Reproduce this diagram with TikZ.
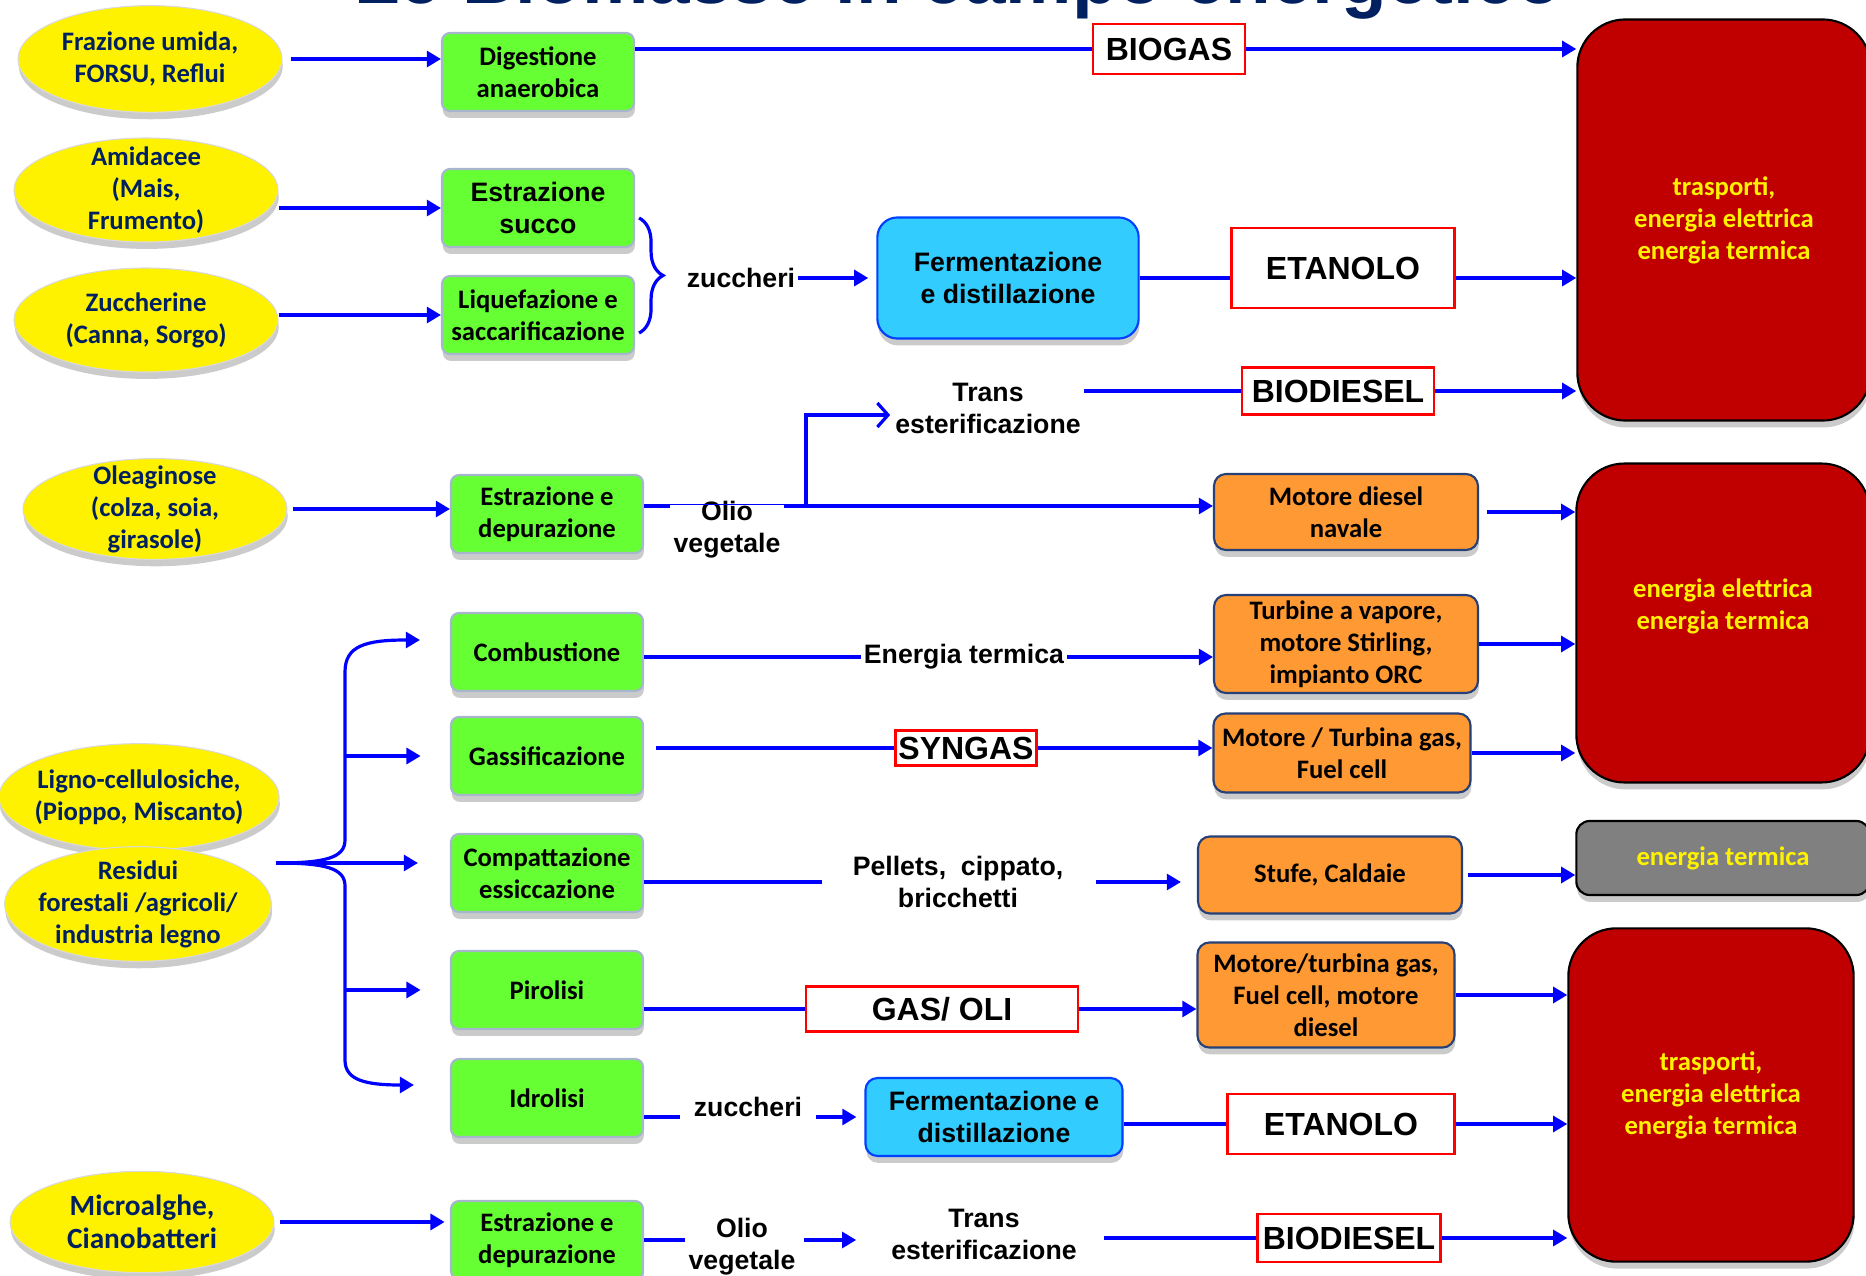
\documentclass[tikz,border=0pt]{standalone}
\usepackage{fontspec}
\setmainfont{Carlito}
\newfontfamily\arialfont{Liberation Sans}
\usetikzlibrary{arrows.meta,calc,shadows,shapes.geometric,decorations.pathreplacing}

\definecolor{navy}{RGB}{0,32,96}
\definecolor{leaf}{RGB}{102,255,51}
\definecolor{sky}{RGB}{51,204,255}
\definecolor{amber}{RGB}{255,153,51}
\definecolor{wine}{RGB}{192,0,0}
\definecolor{frame}{RGB}{166,182,204}

\begin{document}
\begin{tikzpicture}[x=0.375pt, y=-0.375pt,
    every node/.style={font=\bfseries\fontsize{10}{12}\selectfont, align=center, inner sep=1pt},
    arial/.style={font=\arialfont\bfseries\fontsize{10}{12}\selectfont},
    boxshadow/.style={drop shadow={shadow xshift=0.3pt, shadow yshift=-2.6pt, fill=black!45, opacity=0.45}},
    src/.style={ellipse, draw=black!15, fill=yellow, text=navy, minimum width=99pt, minimum height=39pt, inner xsep=-2pt, inner ysep=-3pt, boxshadow},
    proc/.style={rounded corners=3pt, draw=frame, line width=0.8pt, fill=leaf, minimum width=72pt, minimum height=29.25pt, boxshadow},
    ferm/.style={rounded corners=6pt, draw=blue!75!cyan, line width=0.8pt, fill=sky, arial, boxshadow},
    prod/.style={draw=red, line width=1.1pt, fill=white, font=\arialfont\bfseries\fontsize{12}{14}\selectfont},
    conv/.style={rounded corners=4.5pt, draw=navy!85, line width=0.8pt, fill=amber, minimum width=99pt, boxshadow},
    enduse/.style={rounded corners=18pt, draw=black, line width=0.8pt, fill=wine, text=yellow, minimum width=110pt, boxshadow},
    lbl/.style={arial},
    link/.style={draw=blue, line width=1.2pt},
    flow/.style={link, -{Triangle[length=5.3pt, width=6pt]}},
  ]
\useasboundingbox (0,0) rectangle (1866,1276);

\node[font=\arialfont\bfseries\fontsize{28}{30}\selectfont, text=navy, anchor=base] (title) at (958,4) {Le Biomasse in campo energetico};

% sources
\node[src, minimum height=40pt] (e1) at (150,59) {Frazione umida,\\FORSU, Reflui};
\node[src] (e2) at (146,190) {Amidacee\\(Mais,\\Frumento)};
\node[src] (e3) at (146,320) {Zuccherine\\(Canna, Sorgo)};
\node[src, minimum height=37pt] (e4) at (155,509) {Oleaginose\\(colza, soia,\\girasole)};
\node[src, minimum height=40pt] (e5) at (139,797) {Ligno-cellulosiche,\\(Pioppo, Miscanto)};
\node[src, minimum height=43pt] (e6) at (138,904) {Residui\\forestali /agricoli/\\industria legno};
\node[src, minimum height=38pt, font=\bfseries\fontsize{11}{12.5}\selectfont] (e7) at (142,1222) {Microalghe,\\Cianobatteri};

% processes
\node[proc] (g1) at (538,72) {Digestione\\anaerobica};
\node[proc, arial] (g2) at (538,208) {Estrazione\\succo};
\node[proc] (g3) at (538,315) {Liquefazione e\\saccarificazione};
\node[proc] (g4) at (547,514) {Estrazione e\\depurazione};
\node[proc] (g5) at (547,652) {Combustione};
\node[proc] (g6) at (547,756) {Gassificazione};
\node[proc] (g7) at (547,873) {Compattazione\\essiccazione};
\node[proc] (g8) at (547,990) {Pirolisi};
\node[proc] (g9) at (547,1098) {Idrolisi};
\node[proc] (g10) at (547,1240) {Estrazione e\\depurazione};

\node[ferm, minimum width=98pt, minimum height=45.4pt, rounded corners=7.5pt] (b1) at (1008,278) {Fermentazione\\e distillazione};
\node[ferm, minimum width=96.4pt, minimum height=29.25pt, rounded corners=4.5pt] (b2) at (994,1117) {Fermentazione e\\distillazione};

% products
\node[prod, minimum width=57pt, minimum height=18.75pt] (r1) at (1169,49) {BIOGAS};
\node[prod, minimum width=83.6pt, minimum height=30pt] (r2) at (1343,268) {ETANOLO};
\node[prod, minimum width=72pt, minimum height=17.6pt] (r3) at (1338,391) {BIODIESEL};
\node[prod, minimum width=53pt, minimum height=13pt] (r4) at (966,748) {SYNGAS};
\node[prod, minimum width=102pt, minimum height=17pt] (r5) at (942,1009) {GAS/ OLI};
\node[prod, minimum width=85pt, minimum height=22.5pt] (r6) at (1341,1124) {ETANOLO};
\node[prod, minimum width=68.6pt, minimum height=18pt] (r7) at (1349,1238) {BIODIESEL};

% conversion
\node[conv, minimum height=28.5pt] (o1) at (1346,512) {Motore diesel\\navale};
\node[conv, minimum height=36.75pt] (o2) at (1346,644) {Turbine a vapore,\\motore Stirling,\\impianto ORC};
\node[conv, minimum width=96.4pt, minimum height=29.6pt] (o3) at (1342,753) {Motore / Turbina gas,\\Fuel cell};
\node[conv, minimum height=28.9pt] (o4) at (1330,875) {Stufe, Caldaie};
\node[conv, minimum width=96.4pt, minimum height=39.4pt] (o5) at (1326,995) {Motore/turbina gas,\\Fuel cell, motore\\diesel};

% end uses
\node[enduse, minimum height=150.4pt] (d1) at (1724,220) {trasporti,\\energia elettrica\\energia termica};
\node[enduse, minimum height=119.6pt, label={[text=yellow, yshift=6.4pt]center:energia elettrica\\energia termica}] (d2) at (1723,623) {};
\node[enduse, fill=black!50, rounded corners=5pt, minimum height=27.75pt] (gr) at (1723,858) {energia termica};
\node[enduse, minimum width=107pt, minimum height=125pt] (d3) at (1711,1095) {trasporti,\\energia elettrica\\energia termica};

% labels
\node[lbl] (zuc1) at (741,278) {zuccheri};
\node[lbl] (tr1) at (988,408) {Trans\\esterificazione};
\node[lbl] (olio1) at (727,530) {Olio\\vegetale};
\node[lbl] (en1) at (964,657) {Energia termica};
\node[lbl] (pel) at (958,882) {Pellets,\ \ cippato,\\bricchetti};
\node[lbl] (zuc2) at (748,1107) {zuccheri};
\node[lbl] (olio2) at (742,1247) {Olio\\vegetale};
\node[lbl] (tr2) at (984,1234) {Trans\\esterificazione};

\coordinate (split) at (806,506);
\coordinate (fork) at (276,863);
\coordinate (spine) at (345,863);

% connectors
\draw[flow, shorten <=3pt] (e1.east) -- (e1 -| g1.west);
\draw[flow] (e2.east |- g2) -- (g2.west);
\draw[flow] (e3.east |- g3) -- (g3.west);
\draw[flow, shorten <=2pt] (e4.east) -- (e4 -| g4.west);
\draw[flow, shorten <=2pt, shorten >=2pt] (e7.east) -- (e7 -| g10.west);

\draw[link] (g1.east |- r1) -- (r1.west);
\draw[flow] (r1.east) -- (r1 -| d1.west);

\draw[link, decorate, decoration={brace, amplitude=9pt}] ($(g2.east)+(4,10)$) -- ($(g3.east)+(4,18)$);
\draw[flow, shorten >=3pt] (zuc1.east) -- (zuc1 -| b1.west);
\draw[link] (b1.east) -- (b1 -| r2.west);
\draw[flow] (r2.east |- b1) -- (b1 -| d1.west);

\draw[link] (tr1.east |- r3) -- (r3.west);
\draw[flow] (r3.east) -- (r3 -| d1.west);

\draw[link] (g4.east |- split) -- (olio1.west |- split);
\draw[blue, line width=0.5pt] ($(olio1.west |- split)+(0,-1.5)$) -- ($(olio1.east |- split)+(0,-1.5)$);
\draw[flow] (olio1.east |- split) -- (split -| o1.west);
\draw[link, -{Straight Barb[length=4pt, width=9pt]}] (split) |- ($(tr1.west)+(-2,7)$);
\draw[flow, shorten <=3pt] (o1.east) -- (o1 -| d2.west);

\draw[link] (g5.east |- en1) -- (en1.west);
\draw[flow] (en1.east) -- (en1 -| o2.west);
\draw[flow] (o2.east) -- (o2 -| d2.west);

\draw[link, shorten <=4.5pt] (g6.east |- r4) -- (r4.west);
\draw[flow] (r4.east) -- (r4 -| o3.west);
\draw[flow] (o3.east) -- (o3 -| d2.west);

\draw[link, shorten >=10.5pt] (g7.east |- pel) -- (pel.west);
\draw[flow, shorten <=11pt, shorten >=6pt] (pel.east) -- (pel -| o4.west);
\draw[flow, shorten <=2pt] (o4.east) -- (o4 -| gr.west);

\draw[link] (g8.east |- r5) -- (r5.west);
\draw[flow] (r5.east) -- (r5 -| o5.west);
\draw[flow] (o5.east) -- (o5 -| d3.west);

\draw[link, shorten >=4pt] (g9.east |- b2) -- (zuc2.west |- b2);
\draw[flow, shorten <=4pt, shorten >=3pt] (zuc2.east |- b2) -- (b2.west);
\draw[link] (b2.east |- r6) -- (r6.west);
\draw[flow] (r6.east) -- (r6 -| d3.west);

\draw[link] (g10.east) -- (g10 -| olio2.west);
\draw[flow, shorten <=2pt, shorten >=12pt] (olio2.east |- g10) -- (g10 -| tr2.west);
\draw[link, shorten <=9pt] (tr2.east |- r7) -- (r7.west);
\draw[flow] (r7.east) -- (r7 -| d3.west);

% ligno-cellulosic fork
\draw[flow] (fork) .. controls (325,863) and (345,858) .. (345,840) -- (345,672) .. controls (345,646) and (365,640) .. ($(g5.west)+(-30,-12)$);
\draw[flow, shorten >=12pt] (fork) -- (fork -| g7.west);
\draw[flow] (fork) .. controls (325,863) and (345,868) .. (345,886) -- (345,1060) .. controls (345,1080) and (365,1085) .. ($(g9.west)+(-36,-13)$);
\draw[flow, shorten >=11pt] (g6.west -| spine) -- (g6.west);
\draw[flow, shorten >=11pt] (g8.west -| spine) -- (g8.west);
\end{tikzpicture}
\end{document}
